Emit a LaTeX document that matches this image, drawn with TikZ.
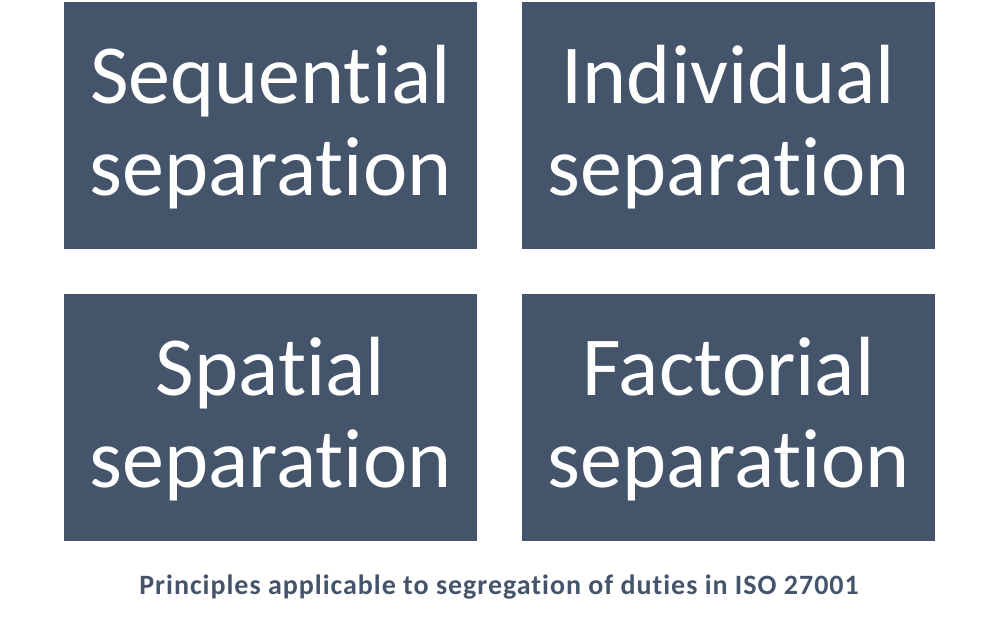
\documentclass[tikz,border=0pt]{standalone}
\usepackage{fontspec}
\setmainfont[Ligatures=NoCommon]{Carlito}
\definecolor{boxc}{HTML}{44546A}
\definecolor{capc}{HTML}{44546A}
\begin{document}
\begin{tikzpicture}[x=1pt,y=-1pt,
  cell/.style={fill=boxc,draw=none,minimum width=413pt,minimum height=247pt,inner sep=0pt},
  celltext/.style={text=white,align=center,inner sep=0pt,font=\fontsize{84}{92}\selectfont},
  captext/.style={text=capc,font=\bfseries\fontsize{28}{32}\selectfont\addfontfeatures{LetterSpace=3.5},inner sep=0pt}]
\useasboundingbox (0,0) rectangle (1000,628);
\node[cell] (a) at (270.5,125.5) {};
\node[cell] (b) at (728.5,125.5) {};
\node[cell] (c) at (270.5,417) {};
\node[cell] (d) at (728.5,417) {};
\node[celltext] (ta) at ([yshift=-2pt]a.center) {Sequential\\separation};
\node[celltext] (tb) at ([yshift=-2pt]b.center) {Individual\\separation};
\node[celltext] (tc) at ([yshift=-2.5pt]c.center) {Spatial\\separation};
\node[celltext] (td) at ([yshift=-2.5pt]d.center) {Factorial\\separation};
\node[captext] (t) at (499,587) {Principles applicable to segregation of duties in ISO 27001};
\end{tikzpicture}
\end{document}
